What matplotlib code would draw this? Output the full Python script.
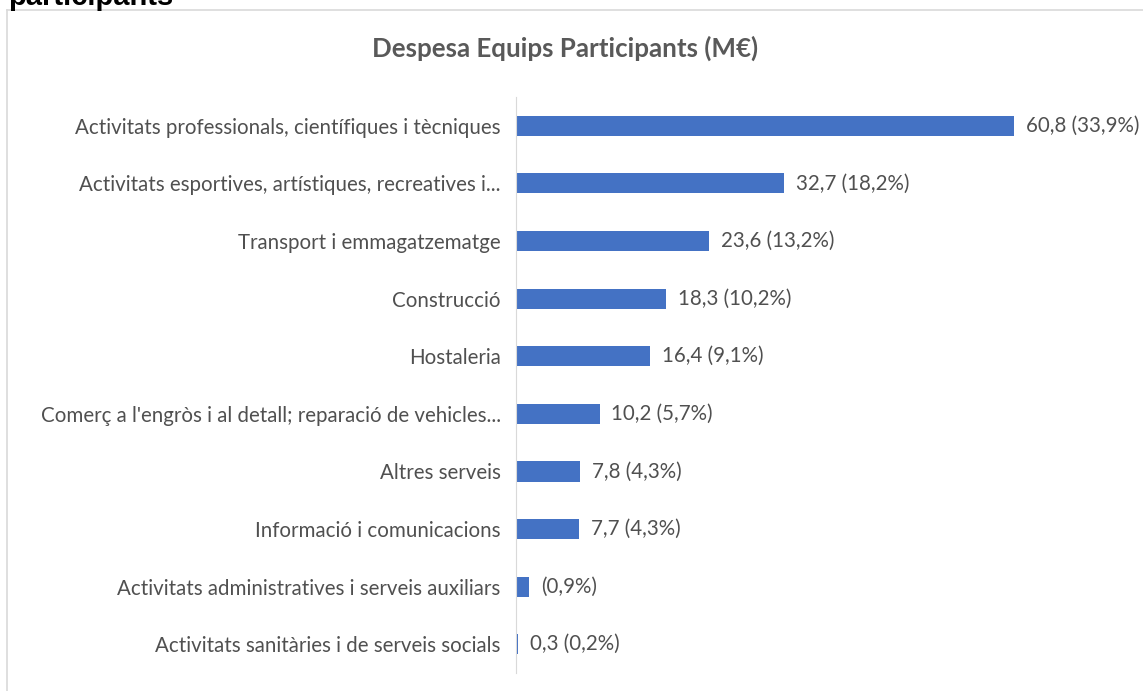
import numpy as np
import matplotlib
matplotlib.use('Agg')
import matplotlib.pyplot as plt
from matplotlib.lines import Line2D

plt.rcParams['font.family'] = ['Lato', 'DejaVu Sans']

categories = [
    'Activitats professionals, científiques i tècniques',
    'Activitats esportives, artístiques, recreatives i...',
    'Transport i emmagatzematge',
    'Construcció',
    'Hostaleria',
    "Comerç a l'engròs i al detall; reparació de vehicles...",
    'Altres serveis',
    'Informació i comunicacions',
    'Activitats administratives i serveis auxiliars',
    'Activitats sanitàries i de serveis socials',
]
values = [60.8, 32.7, 23.6, 18.3, 16.4, 10.2, 7.8, 7.7, 1.6, 0.3]
labels = ['60,8 (33,9%)', '32,7 (18,2%)', '23,6 (13,2%)', '18,3 (10,2%)',
          '16,4 (9,1%)', '10,2 (5,7%)', '7,8 (4,3%)', '7,7 (4,3%)',
          '(0,9%)', '0,3 (0,2%)']

fig = plt.figure(figsize=(11.43, 6.91), dpi=100)
ax = fig.add_axes([516 / 1143, 0.026, (1100 - 516) / 1143, 0.8336])

y = np.arange(len(categories))
ax.barh(y, values, height=0.35, color='#4472C4')
for yi, v, lab in zip(y, values, labels):
    ax.annotate(lab, (v, yi), xytext=(8.5, 0), textcoords='offset points',
                va='center', ha='left', fontsize=14.8, color='#505050')

ax.set_yticks(y)
ax.set_yticklabels(categories, fontsize=14.8, color='#505050')
ax.tick_params(axis='y', length=0, pad=11)
ax.set_ylim(len(categories) - 0.5, -0.5)
ax.set_xlim(0, (1100 - 516) / 8.19)
ax.set_xticks([])
for s in ['top', 'right', 'bottom']:
    ax.spines[s].set_visible(False)
ax.spines['left'].set_color('#d9d9d9')

fig.text(565 / 1143, 1 - 48 / 691, 'Despesa Equips Participants (M€)',
         ha='center', va='center', fontsize=18.6, fontweight='bold',
         color='#595959')

# chart border (only top and left are visible)
fig.add_artist(Line2D([7 / 1143, 1], [1 - 10 / 691, 1 - 10 / 691],
                      color='#d9d9d9', lw=1.2, transform=fig.transFigure))
fig.add_artist(Line2D([7 / 1143, 7 / 1143], [0, 1 - 10 / 691],
                      color='#d9d9d9', lw=1.2, transform=fig.transFigure))

# cut off heading above the chart
fig.text(8 / 1143, 1 - 5 / 691, 'participants', ha='left', va='baseline',
         fontsize=21, fontweight='bold', color='black',
         family=['Liberation Sans', 'DejaVu Sans'])

fig.savefig('out.png', dpi=100, facecolor='white')
